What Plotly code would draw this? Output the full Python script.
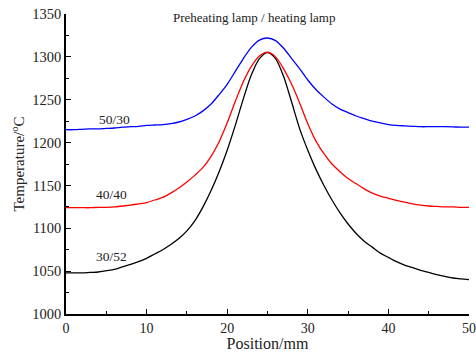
import plotly.graph_objects as go

# Data (position in mm, temperature in deg C)
position = [0, 1, 2, 3, 4, 5, 6, 7, 8, 9, 10, 11, 12, 13, 14, 15, 16, 17, 18, 19, 20,
            21, 22, 23, 24, 25, 26, 27, 28, 29, 30, 31, 32, 33, 34, 35, 36, 37, 38, 39, 40,
            41, 42, 43, 44, 45, 46, 47, 48, 49, 50]

t_30_52 = [1048, 1048, 1048, 1048.5, 1049, 1050.5, 1052, 1055, 1058, 1061, 1065, 1070, 1075,
           1081, 1088, 1097, 1109, 1125, 1144, 1166, 1191, 1220, 1251, 1279, 1298, 1305, 1298,
           1277, 1247, 1216, 1191, 1169, 1150, 1133, 1118, 1105, 1094, 1085, 1078, 1071, 1066,
           1061, 1057, 1054, 1051, 1048.5, 1046, 1044, 1042, 1041, 1040]

t_40_40 = [1124, 1124, 1124, 1124, 1124.5, 1124.5, 1125, 1126, 1127, 1128.5, 1130, 1133, 1136,
           1141, 1147, 1154, 1162, 1171, 1184, 1201, 1223, 1248, 1271, 1289, 1301, 1305.5, 1300,
           1286, 1268, 1246, 1222, 1202, 1187, 1175, 1166, 1158, 1152, 1146, 1141, 1137.5, 1135,
           1132.5, 1130.5, 1128.5, 1127, 1126, 1125.5, 1125, 1125, 1124.5, 1124.5]

t_50_30 = [1215, 1215, 1215.5, 1216, 1216, 1216.5, 1217, 1218, 1218.5, 1219, 1220, 1220.5, 1221,
           1222, 1224, 1227, 1231, 1237, 1245, 1256, 1268, 1283, 1298, 1311, 1319.5, 1322, 1319,
           1310, 1298, 1286, 1273, 1262, 1253, 1245, 1239, 1235, 1231, 1228, 1225, 1223, 1221,
           1220, 1219.5, 1219, 1218.5, 1218.5, 1218.5, 1218.5, 1218.3, 1218, 1218]

labels = ["30/52", "40/40", "50/30"]
values = [t_30_52, t_40_40, t_50_30]
colors = ["black", "red", "blue"]
label_x = [5.7, 5.7, 6.0]
label_y = [1067, 1140, 1227]

FONT = "Liberation Serif, Times New Roman, serif"

fig = go.Figure()
for name, ts, col, lx, ly in zip(labels, values, colors, label_x, label_y):
    fig.add_trace(go.Scatter(x=position, y=ts, mode="lines", name=name,
                             line=dict(color=col, width=1.3, shape="spline", smoothing=0.8),
                             showlegend=False))
    fig.add_annotation(x=lx, y=ly, text=name, showarrow=False, xref="x", yref="y",
                       font=dict(family=FONT, size=13.5, color="#222"))

fig.add_annotation(x=23.3, y=1346, text="Preheating lamp / heating lamp", showarrow=False,
                   xref="x", yref="y", font=dict(family=FONT, size=13, color="#222"))

fig.update_layout(
    width=476, height=352,
    margin=dict(l=66, r=7, t=14, b=38, autoexpand=False),
    paper_bgcolor="white", plot_bgcolor="white",
    font=dict(family=FONT, size=14, color="#222"),
)
fig.update_xaxes(
    range=[0, 50], dtick=10, tick0=0, showgrid=False, zeroline=False, automargin=False,
    showline=True, linecolor="black", linewidth=1.5,
    ticks="inside", ticklen=5, tickwidth=1.3, tickcolor="black",
    minor=dict(ticks="inside", ticklen=3, dtick=5, tickcolor="black", tickwidth=1.1),
    title=dict(text="Position/mm", font=dict(family=FONT, size=16), standoff=0),
    tickfont=dict(family=FONT, size=14),
)
fig.update_yaxes(
    range=[1000, 1350], dtick=50, tick0=1000, showgrid=False, zeroline=False, automargin=False,
    showline=True, linecolor="black", linewidth=1.5,
    ticks="inside", ticklen=5, tickwidth=1.3, tickcolor="black",
    minor=dict(ticks="inside", ticklen=3, dtick=25, tickcolor="black", tickwidth=1.1),
    title=dict(text="Temperature/<sup>o</sup>C", font=dict(family=FONT, size=15), standoff=4),
    tickfont=dict(family=FONT, size=14.5),
)

fig.write_html(
    "out.html",
    config={"displayModeBar": False},
    post_script="document.body.style.margin='0';document.body.style.overflow='hidden';",
)
